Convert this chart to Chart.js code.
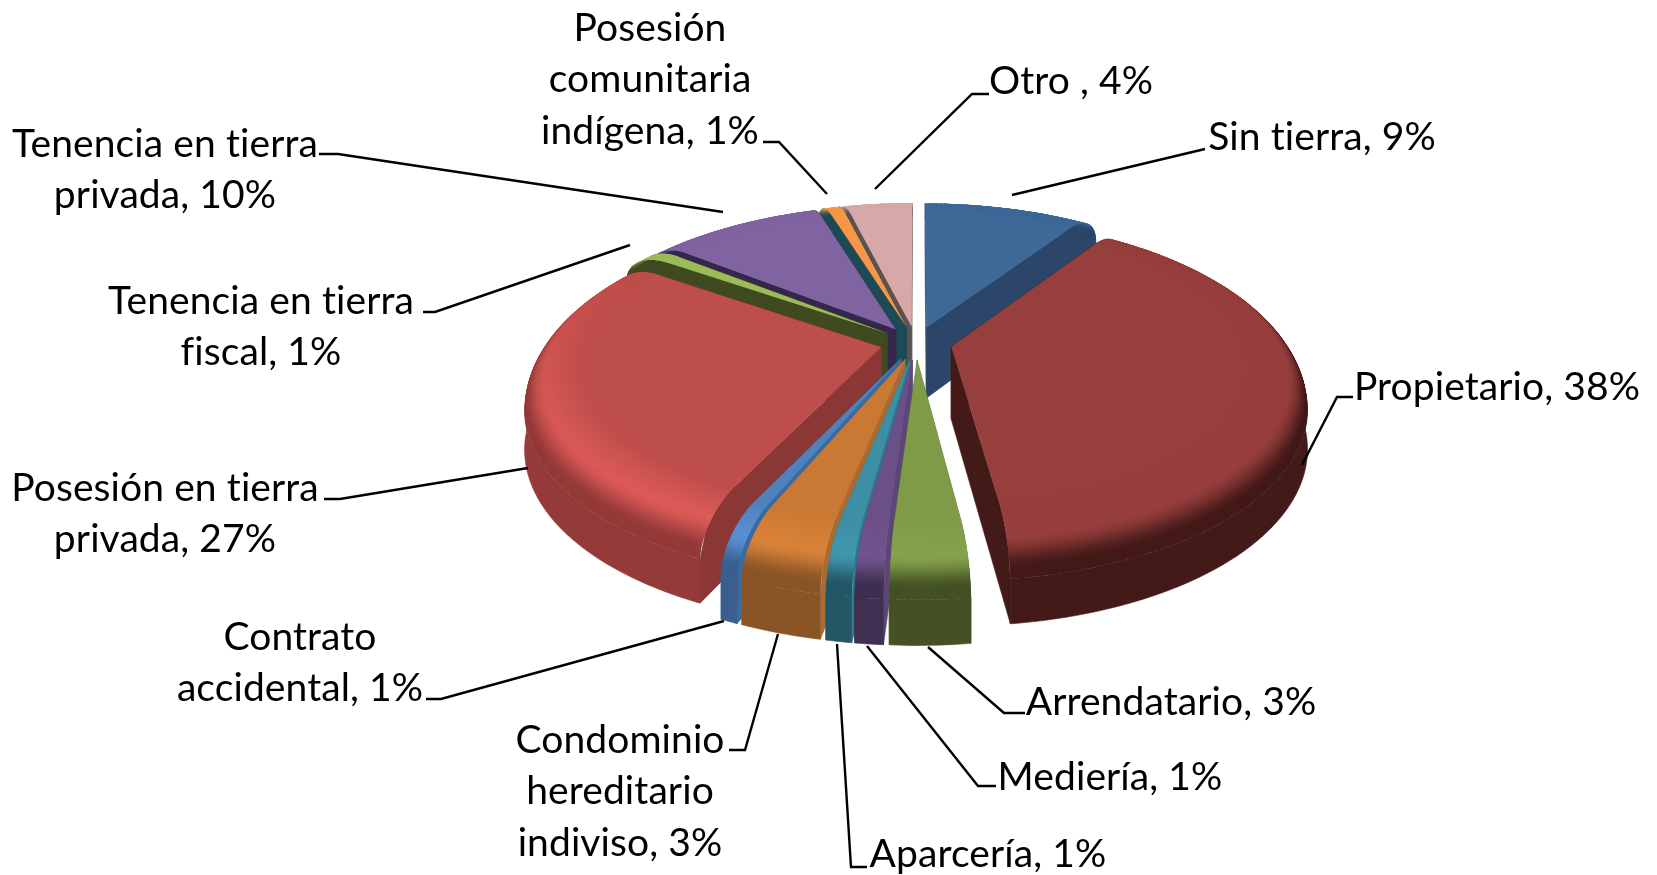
<!DOCTYPE html>
<html><head><meta charset="utf-8">
<style>html,body{margin:0;padding:0;background:#fff}canvas{display:block}</style>
<script src="https://cdn.jsdelivr.net/npm/chart.js@4/dist/chart.umd.min.js"></script>
</head><body>
<canvas id="c" width="1657" height="875"></canvas>
<script>
// ---- data ----
const categories = ['Sin tierra','Propietario','Arrendatario','Mediería','Aparcería','Condominio\nhereditario\nindiviso','Contrato\naccidental','Posesión en tierra\nprivada','Tenencia en tierra\nfiscal','Tenencia en tierra\nprivada','Posesión\ncomunitaria\nindígena','Otro '];
const values = [9.36,38.4,3.09,1.1,1.0,3.19,0.7,27.4,1.0,9.56,0.9,3.88];
// ---- styles ----
const faceColors = ['#3D6898','#973F3D','#7F9B48','#6B5088','#3D8FA5','#C97934','#4F81BD','#BE4E4B','#9BBB59','#8064A2','#F79646','#D7A8A8'];
const rimColors  = ['#2B4669','#431A18','#435124','#3F2F50','#235766','#8A5526','#3A5F8E','#943A38','#404A20','#35274B','#1C4A55','#5E5250'];
const cutColors  = ['#2B4669','#431A18','#5F7536','#5C4678','#2F7A8E','#A96B31','#3A6A9F','#8A3736','#404A20','#35274B','#1C4A55','#5E5250'];
const glow       = [1,1,1.06,1.06,1.06,1.08,1.12,1.16,1,1,1,1];
// ---- label layout: text centre x, first line centre y, leader polyline ----
const labelX = [1322,1497,1171,1110,988,620,300,165,261,165,650,1071];
const labelY = [137,387,702,777,854,740,637,488,301,144,28,81];
const leaders = [
 [[1205,149],[1012,195]],
 [[1353,397],[1337,397],[1302,465]],
 [[1025,713],[1004,713],[928,647]],
 [[996,786],[978,786],[867,646]],
 [[867,867],[851,867],[837,644]],
 [[729,750],[745,750],[778,634]],
 [[426,699],[441,699],[724,621]],
 [[324,499],[340,499],[528,468]],
 [[423,312],[435,312],[630,245]],
 [[319,154],[338,154],[723,212]],
 [[763,142],[779,142],[827,194]],
 [[989,94],[972,94],[875,189]]
];
// ---- 3D look ----
const persp = 2300, tilt = 0.4655, depth = 72, bevelW = 58, bevelD = 34;

function project(arc, lx, ly, z){
  const s = 1/(1 - ly/persp);
  return [arc.x + lx*s, arc.y + (tilt*ly + z)*s];
}
function hex(c){return [1,3,5].map(i=>parseInt(c.substr(i,2),16));}
function mix(a,b,t){return a.map((v,i)=>v+(b[i]-v)*t);}
function css(c){return `rgb(${c.map(v=>Math.max(0,Math.min(255,Math.round(v)))).join(',')})`;}
function path(ctx, pts){
  ctx.beginPath();
  pts.forEach((p,i)=> i?ctx.lineTo(p[0],p[1]):ctx.moveTo(p[0],p[1]));
  ctx.closePath();
}
function poly(ctx, pts, col){
  path(ctx,pts);
  ctx.fillStyle = col; ctx.strokeStyle = col; ctx.lineWidth = .6;
  ctx.fill(); ctx.stroke();
}
function drawSlice(ctx, arc, i){
  const off = arc.options.offset, R = arc.outerRadius;
  const a0 = arc.startAngle, a1 = arc.endAngle, mid = (a0+a1)/2;
  const ox = off*Math.cos(mid), oy = off*Math.sin(mid);
  const zOf = rho => { if(rho <= R-bevelW) return 0; const u=Math.min(1,(rho-(R-bevelW))/bevelW); return bevelD*(1-Math.sqrt(1-u*u)); };
  const P = (rho,ang,z)=>project(arc, rho*Math.cos(ang)+ox, rho*Math.sin(ang)+oy, z);
  const face = hex(faceColors[i]), rim = hex(rimColors[i]);
  const n = Math.max(2, Math.ceil((a1-a0)/(Math.PI/180)));
  const ang = k => Math.min(a1, a0+(a1-a0)*k/n);
  // cut walls
  [a0,a1].forEach(a=>{
    const pts=[]; const N=40;
    for(let j=0;j<=N;j++){const r=R*j/N; pts.push(P(r,a,zOf(r)));}
    pts.push(P(R,a,depth)); pts.push(P(0,a,depth));
    poly(ctx,pts,cutColors[i]);
  });
  // outer wall, only where it faces the viewer
  const top=[],bot=[];
  for(let k=0;k<=n;k++){
    if(Math.sin(ang(k)) < -0.12) continue;
    top.push(P(R,ang(k),bevelD)); bot.unshift(P(R,ang(k),depth));
  }
  if(top.length>1) poly(ctx,top.concat(bot),css(rim));
  // bevel rings, rim first so the crest hides the far side
  const rings = 48;
  const lit = face.map(v=>v*glow[i]);
  for(let r=rings-1;r>=0;r--){
    const u0=r/rings,u1=(r+1)/rings,um=(u0+u1)/2;
    const r0=r===0 ? R-bevelW-3 : R-bevelW+bevelW*Math.sin((u0-1/rings)*Math.PI/2), r1=R-bevelW+bevelW*Math.sin(u1*Math.PI/2);
    for(let k=0;k<n;k++){
      const am=(ang(k)+ang(k+1))/2;
      // light comes from the lower left
      const l=Math.max(0,-.55*Math.cos(am)+.83*Math.sin(am));
      let c;
      if(um<.45) c=mix(face,mix(face,lit,l),um/.45);
      else { const t=Math.min(1,(um-.45)/.4); c=mix(mix(face,lit,l),rim,t*t*(3-2*t)); }
      const b0=ang(k), b1=ang(k+1.5);
      path(ctx,[P(r0,b0,zOf(r0)),P(r0,b1,zOf(r0)),P(r1,b1,zOf(r1)),P(r1,b0,zOf(r1))]);
      ctx.fillStyle=css(c); ctx.fill();
    }
  }
  // flat top
  const pts=[P(0,a0,0)];
  for(let k=0;k<=n;k++) pts.push(P(R-bevelW,ang(k),0));
  path(ctx,pts); ctx.fillStyle=css(face); ctx.fill();
}
const pie3d = {
  id:'pie3d',
  beforeDatasetsDraw(chart){
    const ctx=chart.ctx, arcs=chart.getDatasetMeta(0).data;
    const order=arcs.map((a,i)=>i).sort((p,q)=>{
      const m=a=>(a.startAngle+a.endAngle)/2;
      return Math.sin(m(arcs[p]))-Math.sin(m(arcs[q]));
    });
    ctx.save();
    order.forEach(i=>drawSlice(ctx,arcs[i],i));
    ctx.restore();
    return false;
  },
  afterDraw(chart){
    const ctx=chart.ctx;
    ctx.save();
    ctx.strokeStyle='#000'; ctx.lineWidth=2.4; ctx.lineJoin='miter';
    leaders.forEach(l=>{ctx.beginPath();l.forEach((p,i)=>i?ctx.lineTo(p[0],p[1]):ctx.moveTo(p[0],p[1]));ctx.stroke();});
    ctx.fillStyle='#000'; ctx.font='39px Lato'; ctx.letterSpacing='0.1px'; ctx.textAlign='center'; ctx.textBaseline='middle';
    categories.forEach((cat,i)=>{
      const lines=(cat+', '+Math.round(values[i])+'%').split('\n');
      lines.forEach((t,j)=>ctx.fillText(t,labelX[i],labelY[i]+j*51.6));
    });
    ctx.restore();
  }
};
new Chart(document.getElementById('c'),{
  type:'pie',
  data:{labels:categories.map(c=>c.replace(/\n/g,' ')),datasets:[{data:values,backgroundColor:faceColors,borderWidth:0,offset:36}]},
  options:{
    responsive:false,animation:false,radius:350,
    layout:{padding:{left:175,right:0,top:0,bottom:189}},
    plugins:{legend:{display:false},tooltip:{enabled:false}}
  },
  plugins:[pie3d]
});
</script>
</body></html>
